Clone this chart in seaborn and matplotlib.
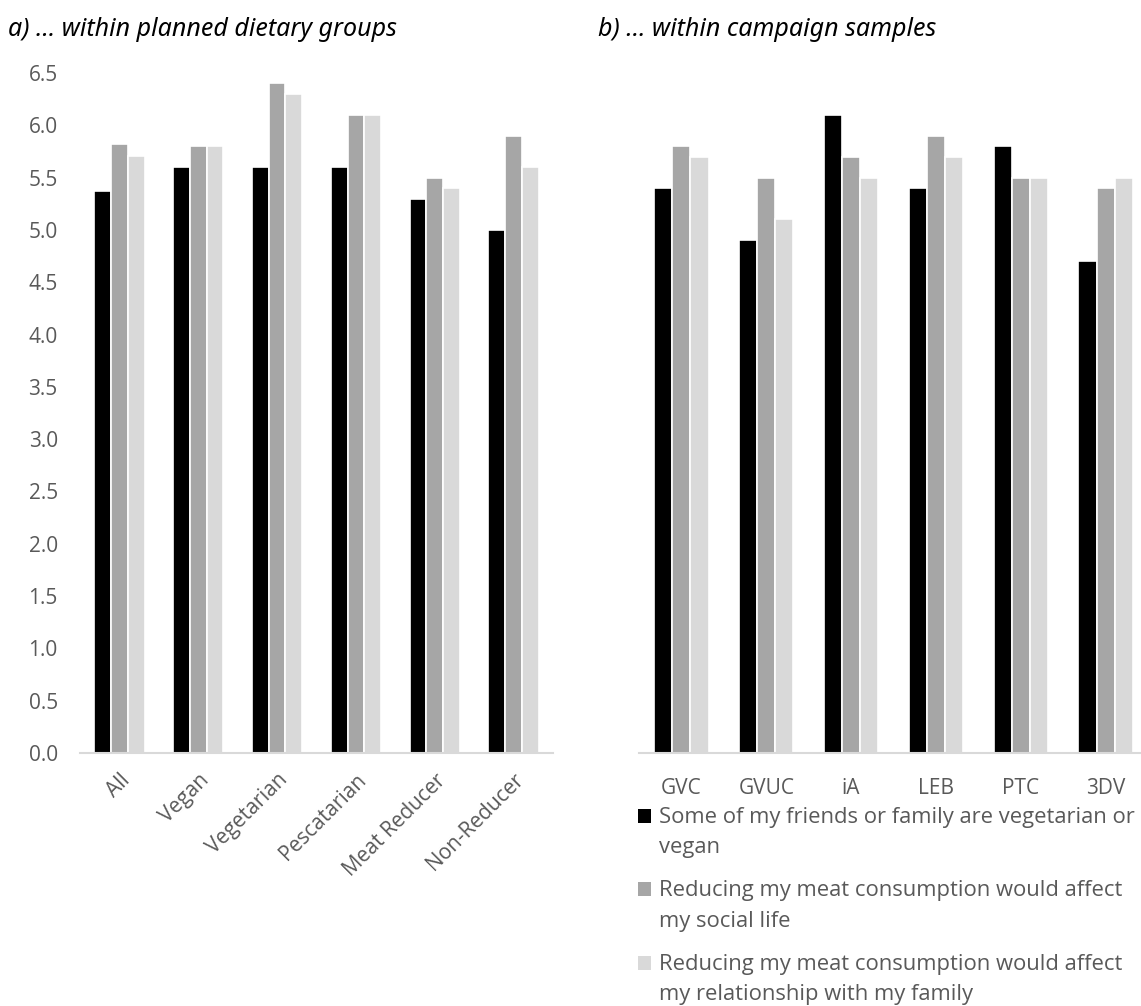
import pandas as pd
import matplotlib.pyplot as plt
import seaborn as sns
from matplotlib.patches import Rectangle
from matplotlib.legend_handler import HandlerPatch

# data
groups = ["All", "Vegan", "Vegetarian", "Pescatarian", "Meat Reducer", "Non-Reducer"]
groups_friends = [5.37, 5.6, 5.6, 5.6, 5.3, 5.0]
groups_social = [5.82, 5.8, 6.4, 6.1, 5.5, 5.9]
groups_family = [5.71, 5.8, 6.3, 6.1, 5.4, 5.6]

campaigns = ["GVC", "GVUC", "iA", "LEB", "PTC", "3DV"]
campaigns_friends = [5.4, 4.9, 6.1, 5.4, 5.8, 4.7]
campaigns_social = [5.8, 5.5, 5.7, 5.9, 5.5, 5.4]
campaigns_family = [5.7, 5.1, 5.5, 5.7, 5.5, 5.5]

items = [
    "Some of my friends or family are vegetarian or\nvegan",
    "Reducing my meat consumption would affect\nmy social life",
    "Reducing my meat consumption would affect\nmy relationship with my family",
]
colors = ["#000000", "#a6a6a6", "#d9d9d9"]
yticks = [0.0, 0.5, 1.0, 1.5, 2.0, 2.5, 3.0, 3.5, 4.0, 4.5, 5.0, 5.5, 6.0, 6.5]

def long_df(cats, *series):
    rows = []
    for item, vals in zip(items, series):
        for c, v in zip(cats, vals):
            rows.append({"cat": c, "item": item, "value": v})
    return pd.DataFrame(rows)

df_a = long_df(groups, groups_friends, groups_social, groups_family)
df_b = long_df(campaigns, campaigns_friends, campaigns_social, campaigns_family)


class TopSquare(HandlerPatch):
    # legend square sitting on the first line of a two-line label
    def create_artists(self, legend, orig_handle, xdescent, ydescent, width,
                       height, fontsize, trans):
        p = Rectangle((-xdescent, -ydescent + 0.78 * fontsize), width, height,
                      facecolor=orig_handle.get_facecolor(), edgecolor="none",
                      transform=trans)
        return [p]


sns.set_style("white")
plt.rcParams["font.family"] = ["Open Sans", "DejaVu Sans"]
txt = "#595959"
fs = 15

W, H = 1141, 1006
fig = plt.figure(figsize=(W / 100, H / 100), dpi=100)
ax1 = fig.add_axes([80 / W, 1 - 753 / H, (553 - 80) / W, (753 - 73) / H])
ax2 = fig.add_axes([639 / W, 1 - 753 / H, (1148 - 639) / W, (753 - 73) / H])

for ax, df, cats in [(ax1, df_a, groups), (ax2, df_b, campaigns)]:
    sns.barplot(ax=ax, data=df, x="cat", y="value", hue="item", order=cats,
                hue_order=items, palette=colors, width=0.64,
                edgecolor="white", linewidth=1.2, legend=(ax is ax2))
    ax.set_ylim(0, 6.5)
    ax.set_xlim(-0.5, len(cats) - 0.5)
    ax.set_xlabel("")
    ax.set_ylabel("")
    for s in ["top", "right", "left"]:
        ax.spines[s].set_visible(False)
    ax.spines["bottom"].set_color("#d9d9d9")
    ax.spines["bottom"].set_linewidth(1.5)
    ax.tick_params(axis="both", length=0, colors=txt, labelsize=fs)

ax1.set_yticks(yticks)
ax1.set_yticklabels([f"{t:.1f}" for t in yticks])
ax1.tick_params(axis="y", pad=16)
plt.setp(ax1.get_xticklabels(), rotation=45, ha="right", rotation_mode="anchor")
ax1.tick_params(axis="x", pad=12)

ax2.set_yticks([])
ax2.tick_params(axis="x", pad=18)

handles, labels = ax2.get_legend_handles_labels()
ax2.get_legend().remove()
leg = fig.legend(handles, labels, loc="upper left",
                 bbox_to_anchor=(618 / W, 1 - 787 / H), frameon=False,
                 fontsize=fs + 0.8, handlelength=0.62, handleheight=0.62,
                 handletextpad=0.35, labelspacing=1.0, labelcolor=txt,
                 handler_map={Rectangle: TopSquare()})
for t in leg.get_texts():
    t.set_linespacing(1.6)

title_font = ["Noto Sans", "DejaVu Sans"]
fig.text(8 / W, 1 - 29 / H, "a) \u2026 within planned dietary groups", fontsize=18,
         style="italic", family=title_font, va="center", color="#000000")
fig.text(598 / W, 1 - 29 / H, "b) \u2026 within campaign samples", fontsize=18,
         style="italic", family=title_font, va="center", color="#000000")

fig.savefig("out.png", dpi=100)
